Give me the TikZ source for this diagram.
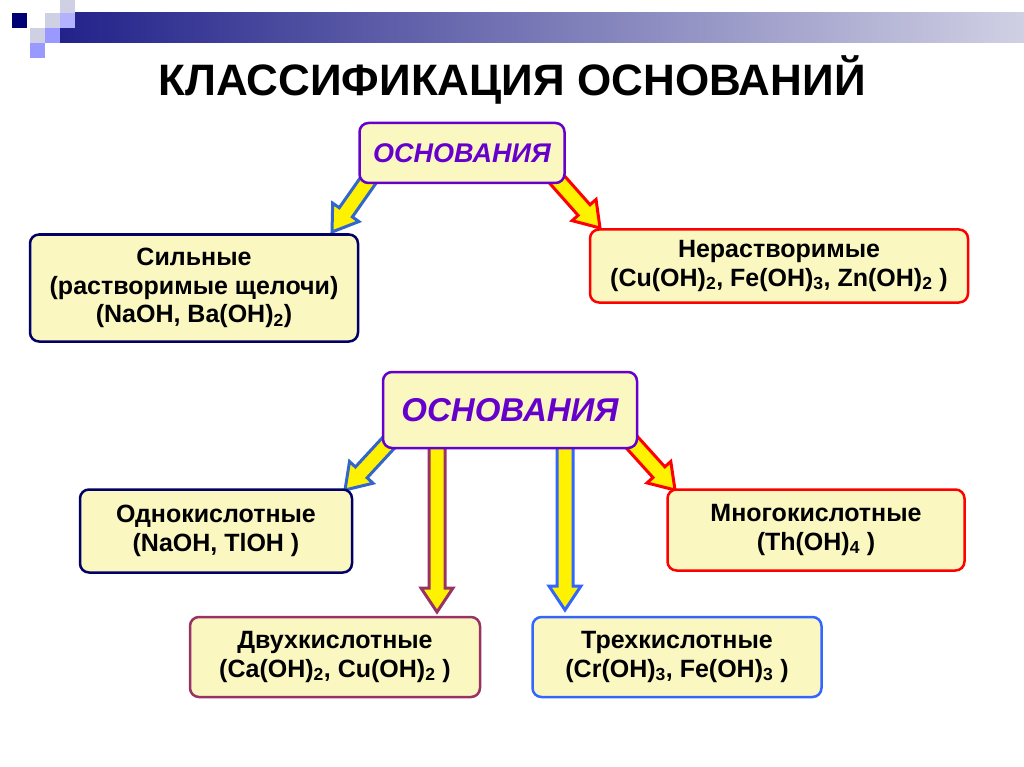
\documentclass[tikz,border=0pt]{standalone}
\usepackage{fontspec}
\setmainfont{Liberation Sans}
\usetikzlibrary{calc}
\definecolor{boxfill}{HTML}{FAF7C0}
\definecolor{navyb}{HTML}{000066}
\definecolor{purp}{HTML}{6600CC}
\definecolor{maroon}{HTML}{993366}
\definecolor{blueb}{HTML}{3366FF}
\definecolor{arrblue}{HTML}{3366CC}
\definecolor{bannerd}{HTML}{22228A}
\definecolor{bannerl}{HTML}{D0D0E4}
\tikzset{
  bx/.style={draw=#1, line width=2.5pt, fill=boxfill, rounded corners=9pt, align=center, font=\bfseries\fontsize{25}{28.5}\selectfont, inner sep=0pt},
}
\newcommand\blockarr[3]{%
  \path ($(#3)!24pt!(#2)$) coordinate (H);
  \draw[#1, line width=3pt, fill=yellow, line join=miter]
   ($(#2)!8pt!90:(#3)$) -- ($(H)!8pt!-90:(#2)$) -- ($(H)!16pt!-90:(#2)$) -- (#3)
   -- ($(H)!16pt!90:(#2)$) -- ($(H)!8pt!90:(#2)$) -- ($(#2)!8pt!-90:(#3)$) -- cycle;}
\begin{document}
\begin{tikzpicture}[x=1pt,y=-1pt]
\useasboundingbox (0,0) rectangle (1024,767);
% banner
\shade[left color=bannerd, right color=bannerl] (60,13) rectangle (1024,43);
\fill[navyb!90!blue] (12,13) rectangle (27,28);
\fill[bannerl] (60,0) rectangle (75,13);
\fill[bannerl] (45,13) rectangle (60,28);
\fill[blue!30!white] (60,13) rectangle (75,28);
\fill[bannerl] (30,28) rectangle (45,43);
\fill[blue!40!white] (45,28) rectangle (60,43);
\fill[blue!40!white] (30,43) rectangle (45,58);
\node[font=\bfseries\fontsize{44}{48}\selectfont] (title) at (512,80) {КЛАССИФИКАЦИЯ ОСНОВАНИЙ};
% arrow endpoints (arrows drawn first, boxes on top)
\coordinate (a1s) at (372,175); \coordinate (a1e) at (332,232);
\coordinate (a2s) at (553,175); \coordinate (a2e) at (600,228);
\coordinate (b1s) at (393,438); \coordinate (b1e) at (345,490);
\coordinate (b2s) at (437,440); \coordinate (b2e) at (437,612);
\coordinate (b3s) at (565,440); \coordinate (b3e) at (565,610);
\coordinate (b4s) at (628,438); \coordinate (b4e) at (675,490);
\blockarr{arrblue}{a1s}{a1e}
\blockarr{red}{a2s}{a2e}
\blockarr{arrblue}{b1s}{b1e}
\blockarr{maroon}{b2s}{b2e}
\blockarr{blueb}{b3s}{b3e}
\blockarr{red}{b4s}{b4e}
% boxes
\node[bx=purp, minimum width=205pt, minimum height=60pt, text=purp, font=\bfseries\itshape\fontsize{27}{30}\selectfont] (o1) at (462,153) {ОСНОВАНИЯ};
\node[bx=navyb, minimum width=328pt, minimum height=107pt] (s) at (194,288) {Сильные\\(растворимые щелочи)\\(NaOH, Ba(OH)\textsubscript{2})};
\node[bx=red, minimum width=378pt, minimum height=73pt] (n) at (779,266) {Нерастворимые\\(Cu(OH)\textsubscript{2}, Fe(OH)\textsubscript{3}, Zn(OH)\textsubscript{2} )};
\node[bx=purp, minimum width=254pt, minimum height=76pt, text=purp, font=\bfseries\itshape\fontsize{33}{36}\selectfont] (o2) at (510,410) {ОСНОВАНИЯ};
\node[bx=navyb, minimum width=272pt, minimum height=83pt] (one) at (216,531) {Однокислотные\\(NaOH, TlOH )};
\node[bx=red, minimum width=297pt, minimum height=81pt] (many) at (816,530) {Многокислотные\\(Th(OH)\textsubscript{4} )};
\node[bx=maroon, minimum width=290pt, minimum height=80pt] (two) at (335,657) {Двухкислотные\\(Ca(OH)\textsubscript{2}, Cu(OH)\textsubscript{2} )};
\node[bx=blueb, minimum width=289pt, minimum height=80pt] (three) at (677,657) {Трехкислотные\\(Cr(OH)\textsubscript{3}, Fe(OH)\textsubscript{3} )};
\end{tikzpicture}
\end{document}
